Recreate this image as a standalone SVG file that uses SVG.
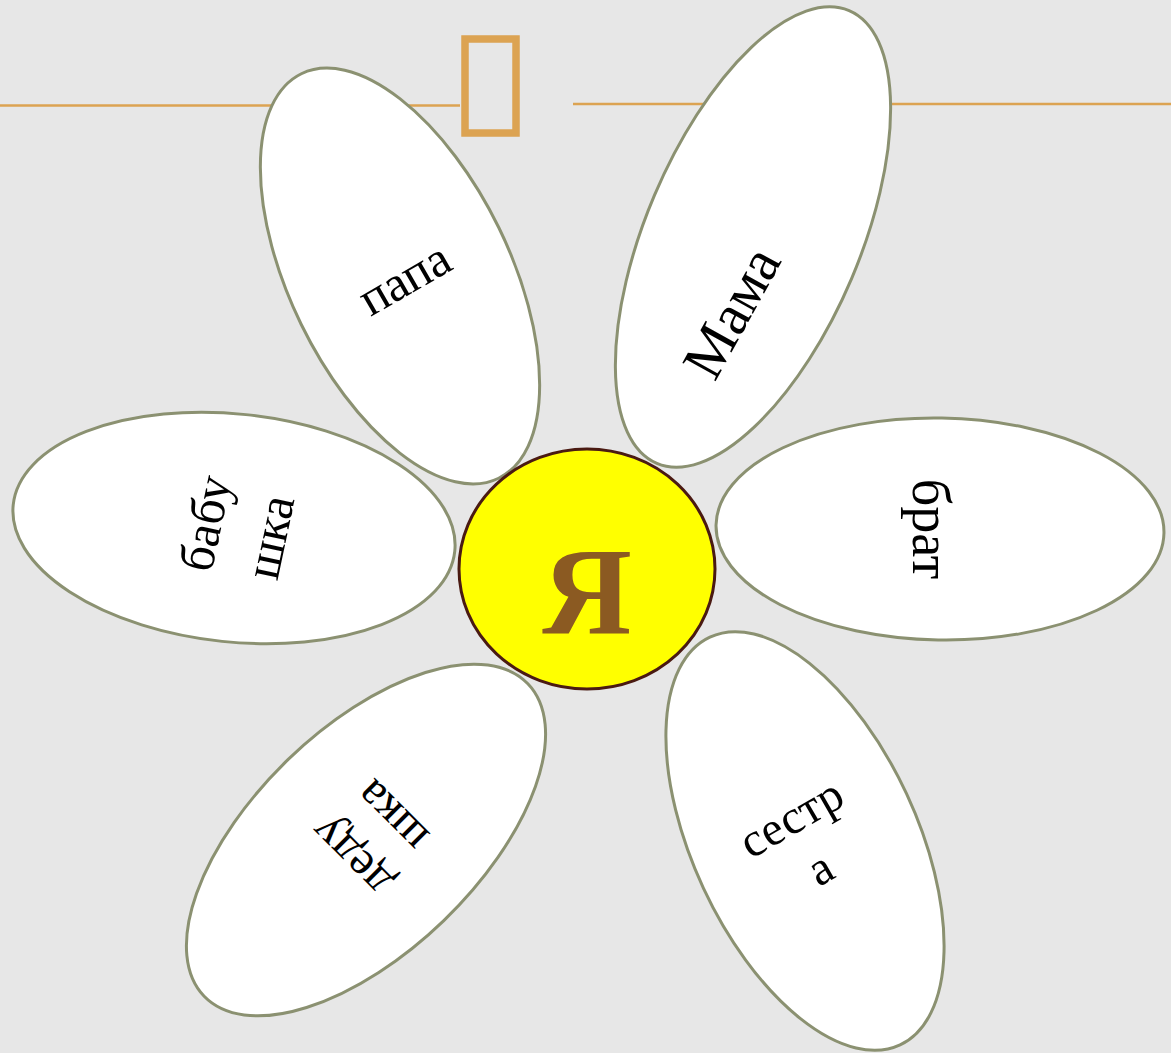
<svg xmlns="http://www.w3.org/2000/svg" width="1171" height="1053" viewBox="0 0 1171 1053">
<style>
.petal{fill:#ffffff;stroke:#8b9171;stroke-width:3}
.lbl{font-family:"Liberation Serif","DejaVu Serif",serif;fill:#000000;text-anchor:middle}
.deco{stroke:#dca352;fill:none}
</style>
<rect x="0" y="0" width="1171" height="1053" fill="#e7e7e7"/>
<g id="decoration">
<line class="deco" x1="0" y1="105.5" x2="460" y2="105.5" stroke-width="2.5"/>
<line class="deco" x1="573" y1="104" x2="1171" y2="104" stroke-width="2.5"/>
<rect class="deco" x="465" y="39" width="51" height="94" stroke-width="7.5"/>
</g>
<g id="connectors"></g>
<g id="papa">
<ellipse class="petal" cx="0" cy="0" rx="110" ry="225" transform="translate(400,276) rotate(-26)"/>
<text class="lbl" font-size="50" transform="translate(404,278) rotate(-30)" y="17">папа</text>
</g>
<g id="mama">
<ellipse class="petal" cx="0" cy="0" rx="107" ry="246" transform="translate(753,237) rotate(23)"/>
<text class="lbl" font-size="58" transform="translate(731,312) rotate(-61)" y="20">Мама</text>
</g>
<g id="brat">
<ellipse class="petal" cx="0" cy="0" rx="224" ry="111" transform="translate(940,529) rotate(1)"/>
<text class="lbl" font-size="54" transform="translate(931,529) rotate(90)" y="18">брат</text>
</g>
<g id="babushka">
<ellipse class="petal" cx="0" cy="0" rx="222" ry="114" transform="translate(234,528) rotate(6)"/>
<text class="lbl" font-size="50" transform="translate(237,530) rotate(-78)"><tspan x="0" y="-16">бабу</tspan><tspan x="0" y="50">шка</tspan></text>
</g>
<g id="dedushka">
<ellipse class="petal" cx="0" cy="0" rx="112" ry="225" transform="translate(366,840) rotate(46)"/>
<text class="lbl" font-size="48" transform="translate(370,838) rotate(-135)"><tspan x="0" y="-12">деду</tspan><tspan x="0" y="46">шка</tspan></text>
</g>
<g id="sestra">
<ellipse class="petal" cx="0" cy="0" rx="112" ry="225" transform="translate(805,841) rotate(-25)"/>
<text class="lbl" font-size="48" transform="translate(805,842) rotate(-30)"><tspan x="0" y="-12">сестр</tspan><tspan x="0" y="46">а</tspan></text>
</g>
<g id="ya">
<ellipse cx="587" cy="569" rx="128" ry="120" fill="#ffff00" stroke="#4a1a12" stroke-width="3"/>
<text x="587" y="634" font-family="Liberation Serif, DejaVu Serif, serif" font-weight="bold" font-size="124" fill="#8b5a22" text-anchor="middle">Я</text>
</g>
</svg>
